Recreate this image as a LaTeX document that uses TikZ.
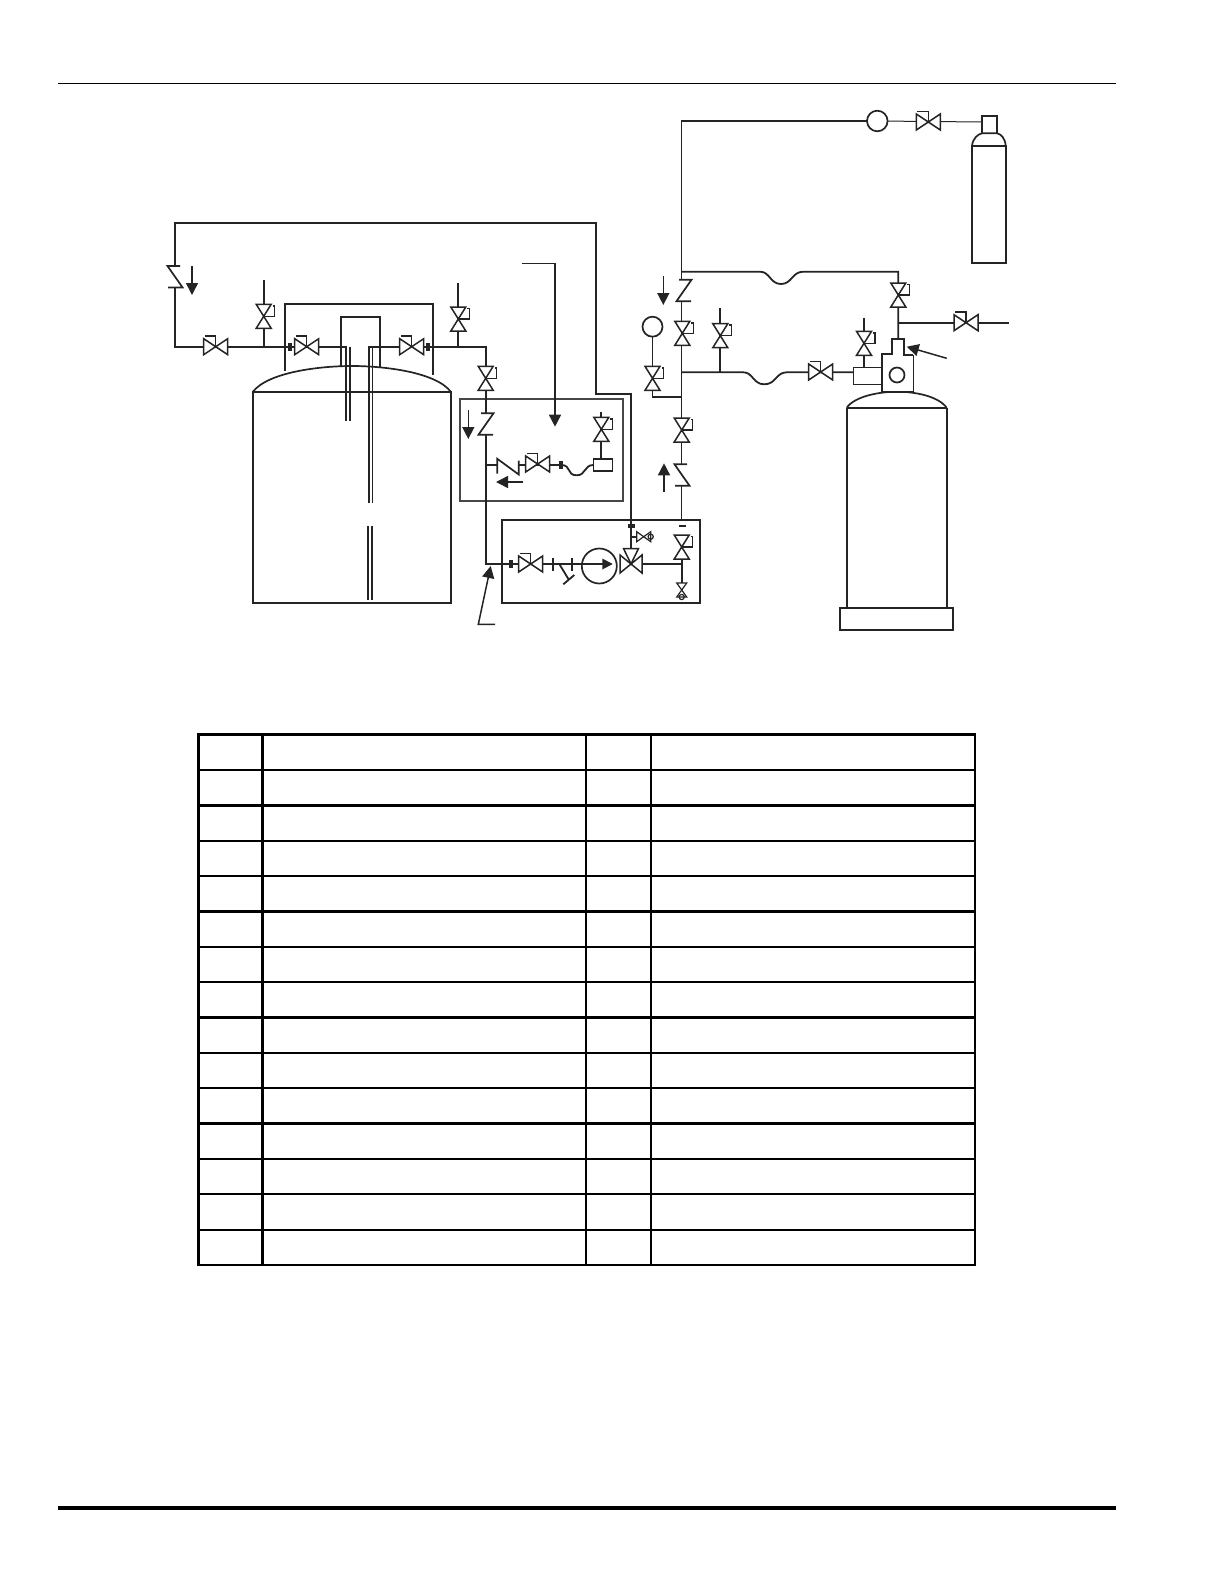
\documentclass[tikz,border=0pt]{standalone}
\usetikzlibrary{arrows.meta}
\colorlet{ink}{black!86}
\tikzset{
 pipe/.style={draw=ink, line width=1.8pt},
 thinpipe/.style={draw=ink, line width=1pt},
 shell/.style={draw=ink, line width=1.7pt},
 tube/.style={draw=ink, line width=1.4pt},
 rule/.style={draw=black, line width=2.2pt},
 flow/.style={draw=ink, line width=1.5pt, -{Stealth[length=12pt,width=12pt,inset=0pt]}},
 valveh/.pic={
  \filldraw[shell, line width=1.5pt, fill=white] (-12,-8)--(12,8)--(12,-8)--(-12,8)--cycle;
  \draw[shell, line width=1.5pt] (0,0)--(0,-10.5)--(-11,-10.5);},
 valvev/.pic={
  \filldraw[shell, line width=1.5pt, fill=white] (-7.5,-12)--(7.5,-12)--(-7.5,12)--(7.5,12)--cycle;
  \draw[shell, line width=1.5pt] (0,0)--(11,0)--(11,-10.5)--(9,-10.5);},
 checkz/.pic={
  \fill[white] (-8,-10.7) rectangle (8,10.7);
  \draw[shell] (-5,-10.7)--(7.5,-10.7)--(-7.5,10.7)--(7,10.7);},
 checkh/.pic={
  \fill[white] (-10.7,-8) rectangle (10.7,8);
  \draw[shell] (-10.7,8)--(-10.7,-6.7)--(10.7,9)--(10.7,-5);},
 smallh/.pic={
  \filldraw[shell, line width=1.2pt, fill=white] (-7,-5)--(7,5)--(7,-5)--(-7,5)--cycle;
  \draw[shell, line width=1.2pt] (7,0) circle (2.6);},
 smallv/.pic={
  \filldraw[shell, line width=1.2pt, fill=white] (-5,-7)--(5,-7)--(-5,7)--(5,7)--cycle;
  \draw[shell, line width=1.2pt] (0,7) circle (2.6);}
}
\begin{document}
\begin{tikzpicture}[x=1pt, y=-1pt, line join=miter, >=stealth]
 \useasboundingbox (0,0) rectangle (1224,1584);
 % page rules
 \draw[black, line width=1.1pt] (58,83.5)--(1116,83.5);
 \draw[black, line width=3.8pt] (58,1508)--(1116,1508);
 % places
 \coordinate (retB) at (596,394);
 \coordinate (retC) at (175,223); \coordinate (tubeL) at (346,346.7);
 \coordinate (tubeLe) at (346,420.7);
 \coordinate (tubeRe) at (368.7,503.3); \coordinate (bend) at (485.7,346.7);
 \coordinate (pumpin) at (603,564); \coordinate (tee) at (631.3,564);
 \coordinate (teetop) at (631.3,549); \coordinate (main) at (681.7,520);
 \coordinate (maintop) at (681.7,271.7); \coordinate (maintee) at (681.7,372.3);
 \coordinate (gasgauge) at (877.3,121); \coordinate (press) at (652.5,326.7);
 \coordinate (regtop) at (898.3,339.3); \coordinate (regin) at (853.3,372.3);
 \coordinate (vent1) at (263.7,280); \coordinate (vent2) at (458.3,283);
 \coordinate (vent3) at (720.3,308.3); \coordinate (vent4) at (864,317.7);
 \coordinate (vent5) at (601.3,411.7); \coordinate (fillrect) at (601.3,459);
 \coordinate (outlet) at (1009,322.7); \coordinate (neck) at (982.3,122);
 \coordinate (boxdrain) at (681.7,590);
 % tanks
 \draw[shell] (252.7,392) .. controls (268,372) and (320,366) .. (352,366) .. controls (384,366) and (436,372) .. (451,392);
 \draw[shell] (252.7,392) rectangle (451,603.3);
 \draw[shell] (285,371) |- (433.3,304) -- (433.3,374.5);
 \draw[shell] (340.7,366.5) |- (380,316.7) -- (380,366.5);
 \draw[shell] (846.7,407.7) .. controls (855,396) and (880,391.7) .. (896.7,391.7) .. controls (915,391.7) and (938,396) .. (946.7,407.7);
 \draw[shell] (846.7,407.7) -- (946.7,407.7) (846.7,407.7) -- (846.7,608.3) (946.7,407.7) -- (946.7,608.3);
 \draw[shell, line width=2pt] (840,608.3) rectangle (953.3,630);
 \draw[shell] (972,145.7) .. controls (973,138) and (978,134) .. (982.3,133.3) -- (997,133.3) .. controls (1001,134) and (1005,138) .. (1005.7,145.7);
 \draw[shell] (972,145.7) rectangle (1005.7,263.3);
 \draw[shell] (982.3,133.3) |- (997,115.7) -- (997,133.3);
 % skids
 \draw[shell, draw=black!72] (460,399) rectangle (623.3,500.7);
 \draw[shell] (501.7,520) rectangle (700,603.3);
 % pipes
 \draw[pipe] (teetop) |- (retB) |- (retC) |- (tubeL) -- (tubeLe);
 \draw[tube] (350,346.7) -- (350,420.7);
 \draw[pipe] (tubeRe) |- (bend) |- (pumpin);
 \draw[tube] (372.7,347) -- (372.7,503.3) (368,525.7) -- (368,600) (372,525.7) -- (372,600);
 \draw[pipe] (vent1) -- (vent1 |- tubeL);
 \draw[pipe] (vent2) -- (vent2 |- tubeL);
 \draw[pipe, line width=1.5pt] (gasgauge) -| (main);
 \draw[pipe] (tee) -- (681.7,564) (681.7,559) -- (boxdrain);
 \draw[pipe] (maintop) -- (760,271.7) .. controls (770,271.7) and (770,284) .. (781,284) .. controls (792,284) and (792,271.7) .. (803.3,271.7) -| (regtop);
 \draw[pipe] (regtop |- outlet) -- (outlet);
 \draw[pipe] (maintee) -- (743.3,372.3) .. controls (753,372.3) and (753,384.3) .. (764.3,384.3) .. controls (776,384.3) and (776,372.3) .. (786.7,372.3) -- (regin);
 \draw[pipe] (vent3) -- (vent3 |- maintee);
 \draw[pipe] (vent4) -- (864,367.3);
 \draw[pipe] (press) |- (681.7,396.7);
 \draw[pipe] (bend |- 0,465) -- (561,465) .. controls (572,465) and (566,475.3) .. (576.7,475.3) .. controls (586,475.3) and (584,465) .. (593.3,465);
 \draw[pipe] (vent5) -- (fillrect);
 \draw[thinpipe] (gasgauge) -- (neck);
 % gauges, boxes
 \filldraw[shell, fill=white] (gasgauge) circle (10.3);
 \filldraw[shell, fill=white] (press) circle (10);
 \filldraw[shell, fill=white, line width=1.5pt] (593.3,459) rectangle (612.3,471);
 \filldraw[shell, fill=white, line width=1.5pt] (853.3,367.3) rectangle (881.7,384.3);
 \filldraw[shell, fill=white] (913.3,391.7) -- (881.7,391.7) |- (891.7,354) |- (904,339.3) |- (913.3,355);
 \draw[shell, line width=1pt] (913.3,355) -- (913.3,391.7);
 \draw[shell] (897,375) circle (7.5);
 % valves
 \foreach \x/\y in {215.7/346.7, 306.7/346.7, 411.7/346.7, 537.7/464, 530.7/564, 820.7/372, 966/322.7, 928.3/122}
  \pic at (\x,\y) {valveh};
 \foreach \x/\y in {263.7/316.3, 458.3/319, 485.7/378.3, 601.3/429.3, 652.5/378.3, 681.7/430, 681.7/547, 682.3/333.3, 720.3/335.7, 864/343.3, 898.3/295}
  \pic at (\x,\y) {valvev};
 \pic at (175,276.7) [xscale=-1] {checkz};
 \pic at (486,424) {checkz};
 \pic at (684,290.5) {checkz};
 \pic at (682,475) [xscale=-1] {checkz};
 \pic at (508,465.5) {checkh};
 \pic at (643.7,536.7) {smallh};
 \pic at (boxdrain) {smallv};
 \draw[pipe] (631.3,526) -- (631.3,537) -- (636.7,537);
 % fittings
 \foreach \x/\y in {290/346.7, 428/346.7, 510.7/564, 561/465}
  \fill[ink] (\x-1.9,\y-4) rectangle (\x+1.9,\y+4);
 \fill[ink] (628,524) rectangle (634.5,527.5);
 \fill[ink] (679.3,524.6) rectangle (686,527.2);
 \draw[pipe] (553.3,558) -- (553.3,570.7) (572.3,558) -- (572.3,570.7);
 \draw[pipe] (559.3,564) -- (569,580) (563.3,584.3) -- (574.3,575);
 % pump
 \draw[shell] (599.3,566) circle (17.5);
 \fill[ink] (612.7,564) -- (602.3,558.5) -- (602.3,569.5) -- cycle;
 \filldraw[shell, line width=1.5pt, fill=white] (620,555)--(642,573)--(642,555)--(620,573)--cycle;
 \filldraw[shell, line width=1.5pt, fill=white] (631,564)--(623.5,548.5)--(638.5,548.5)--cycle;
 % arrows
 \draw[flow] (192,266) -- (192,295);
 \draw[flow] (468.3,410) -- (468.3,439);
 \draw[flow] (522,263.6) -| (555,426.7);
 \draw[flow] (523.3,482) -- (496,482);
 \draw[flow] (664,491.7) -- (664,463.3);
 \draw[flow] (663.3,276) -- (663.3,305);
 \draw[flow] (946.7,358.3) -- (906.7,346.7);
 \draw[flow] (495,624.3) -- (478.3,624.3) -- (490.7,566);
 % table
 \foreach \r in {1,...,14}
  \draw[rule] (198.3,734.7+35.35*\r) -- (975,734.7+35.35*\r);
 \draw[rule, line width=1.9pt] (585.7,734.7) -- (585.7,1265) (650.7,734.7) -- (650.7,1265);
 \draw[rule, line width=3pt] (262.3,734.7) -- (262.3,1265);
 \draw[rule, line width=2.4pt] (198.3,734.7) rectangle (975,1265);
 \draw[rule, line width=3pt] (198.3,1266) |- (976,734.7);
\end{tikzpicture}
\end{document}
